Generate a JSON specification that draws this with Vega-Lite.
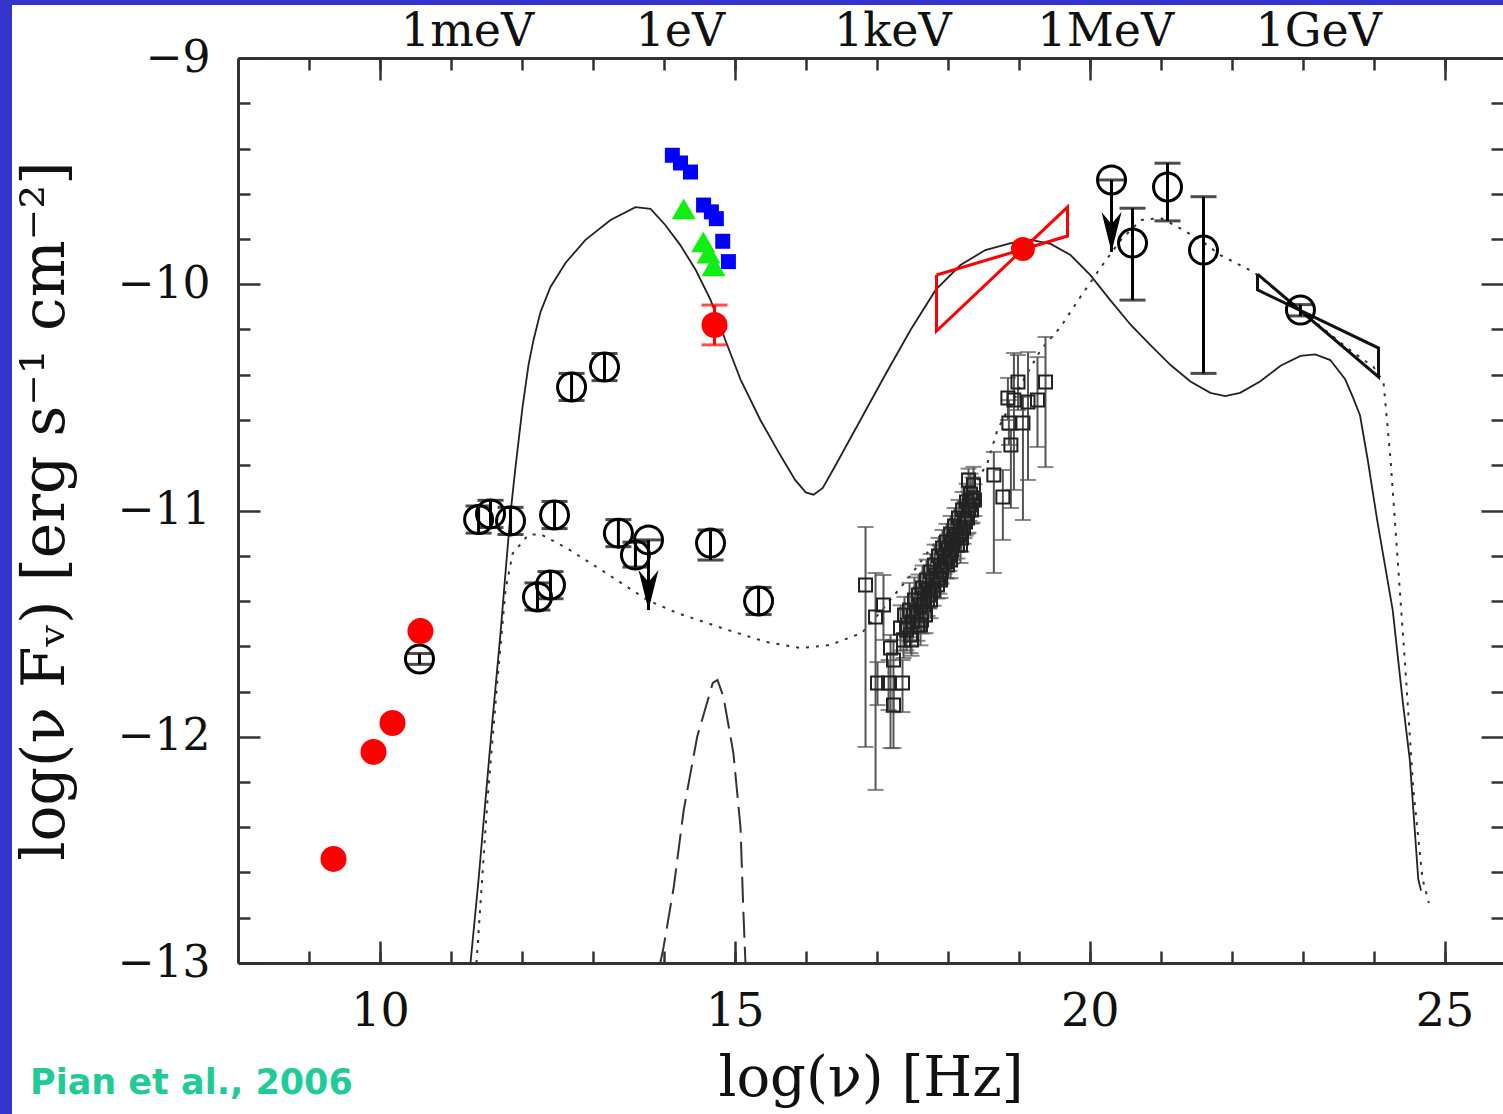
{
  "$schema": "https://vega.github.io/schema/vega-lite/v6.json",
  "width": 1491,
  "height": 1109,
  "autosize": {"type": "none"},
  "padding": {"left": 12, "top": 5, "right": 0, "bottom": 0},
  "background": "#3434cc",
  "title": {"text": "Pian et al., 2006", "orient": "bottom", "anchor": "start", "frame": "group", "dx": 18, "offset": -48, "color": "#1fcc98", "font": "DejaVu Sans", "fontSize": 35, "fontWeight": "bold"},
  "config": {
    "view": {"stroke": null, "fill": "white"},
    "axis": {"grid": false, "domainColor": "#333", "domainWidth": 3, "tickColor": "#333", "tickWidth": 2.5, "labelColor": "#111", "titleColor": "#111"}
  },
  "resolve": {"axis": {"x": "independent", "y": "independent"}},
  "datasets": {
    "solid": [
      {"x": 11.276, "y": -13.0}, {"x": 11.389, "y": -12.633}, {"x": 11.487, "y": -12.28}, {"x": 11.586, "y": -11.926},
      {"x": 11.699, "y": -11.541}, {"x": 11.769, "y": -11.276}, {"x": 11.84, "y": -11.011}, {"x": 11.91, "y": -10.808},
      {"x": 12.009, "y": -10.543}, {"x": 12.093, "y": -10.357}, {"x": 12.164, "y": -10.246}, {"x": 12.262, "y": -10.123},
      {"x": 12.403, "y": -10.012}, {"x": 12.614, "y": -9.906}, {"x": 12.896, "y": -9.804}, {"x": 13.249, "y": -9.716},
      {"x": 13.601, "y": -9.659}, {"x": 13.813, "y": -9.667}, {"x": 14.02, "y": -9.738}, {"x": 14.23, "y": -9.826},
      {"x": 14.45, "y": -9.937}, {"x": 14.66, "y": -10.07}, {"x": 14.87, "y": -10.25}, {"x": 15.08, "y": -10.42},
      {"x": 15.36, "y": -10.6}, {"x": 15.64, "y": -10.755}, {"x": 15.85, "y": -10.865}, {"x": 16.0, "y": -10.92},
      {"x": 16.11, "y": -10.93}, {"x": 16.24, "y": -10.9}, {"x": 16.42, "y": -10.8}, {"x": 16.77, "y": -10.6},
      {"x": 17.12, "y": -10.4}, {"x": 17.48, "y": -10.2}, {"x": 17.83, "y": -10.025}, {"x": 18.18, "y": -9.915},
      {"x": 18.53, "y": -9.849}, {"x": 18.89, "y": -9.818}, {"x": 19.17, "y": -9.804}, {"x": 19.45, "y": -9.822},
      {"x": 19.73, "y": -9.871}, {"x": 20.01, "y": -9.96}, {"x": 20.29, "y": -10.07}, {"x": 20.58, "y": -10.18},
      {"x": 20.86, "y": -10.27}, {"x": 21.14, "y": -10.357}, {"x": 21.42, "y": -10.43}, {"x": 21.7, "y": -10.48},
      {"x": 21.91, "y": -10.494}, {"x": 22.12, "y": -10.48}, {"x": 22.4, "y": -10.43}, {"x": 22.69, "y": -10.36},
      {"x": 22.97, "y": -10.317}, {"x": 23.18, "y": -10.31}, {"x": 23.39, "y": -10.335}, {"x": 23.6, "y": -10.42},
      {"x": 23.71, "y": -10.5}, {"x": 23.81, "y": -10.58}, {"x": 23.92, "y": -10.78}, {"x": 24.05, "y": -11.04},
      {"x": 24.16, "y": -11.24}, {"x": 24.27, "y": -11.44}, {"x": 24.41, "y": -11.84}, {"x": 24.51, "y": -12.1},
      {"x": 24.63, "y": -12.63}, {"x": 24.67, "y": -12.68}
    ],
    "dotted": [
      {"x": 11.36, "y": -13.0}, {"x": 11.515, "y": -12.28}, {"x": 11.66, "y": -11.735}, {"x": 11.77, "y": -11.35},
      {"x": 11.87, "y": -11.19}, {"x": 12.09, "y": -11.108}, {"x": 12.26, "y": -11.104}, {"x": 12.63, "y": -11.166},
      {"x": 13.12, "y": -11.263}, {"x": 13.77, "y": -11.396}, {"x": 14.19, "y": -11.453}, {"x": 14.9, "y": -11.528},
      {"x": 15.43, "y": -11.58}, {"x": 15.93, "y": -11.608}, {"x": 16.35, "y": -11.594}, {"x": 16.79, "y": -11.541},
      {"x": 17.05, "y": -11.449}, {"x": 17.48, "y": -11.285}, {"x": 17.9, "y": -11.108}, {"x": 18.25, "y": -10.954},
      {"x": 18.56, "y": -10.79}, {"x": 18.7, "y": -10.644}, {"x": 19.03, "y": -10.445}, {"x": 19.31, "y": -10.29},
      {"x": 19.59, "y": -10.189}, {"x": 19.87, "y": -10.056}, {"x": 20.16, "y": -9.924}, {"x": 20.44, "y": -9.804},
      {"x": 20.72, "y": -9.716}, {"x": 21.0, "y": -9.707}, {"x": 21.24, "y": -9.747}, {"x": 21.56, "y": -9.804},
      {"x": 21.84, "y": -9.871}, {"x": 22.31, "y": -9.946}, {"x": 22.97, "y": -10.114}, {"x": 23.63, "y": -10.282},
      {"x": 24.0, "y": -10.366}, {"x": 24.14, "y": -10.432}, {"x": 24.24, "y": -10.777}, {"x": 24.33, "y": -11.175},
      {"x": 24.45, "y": -11.705}, {"x": 24.56, "y": -12.231}, {"x": 24.69, "y": -12.629}, {"x": 24.78, "y": -12.735}
    ],
    "dashed": [
      {"x": 13.95, "y": -13.0}, {"x": 13.996, "y": -12.93}, {"x": 14.14, "y": -12.664}, {"x": 14.28, "y": -12.324},
      {"x": 14.47, "y": -12.0}, {"x": 14.69, "y": -11.762}, {"x": 14.756, "y": -11.749}, {"x": 14.84, "y": -11.824},
      {"x": 14.98, "y": -12.072}, {"x": 15.08, "y": -12.4}, {"x": 15.12, "y": -12.766}, {"x": 15.15, "y": -13.0}
    ],
    "redBow": [
      {"o": 1, "x": 17.842, "y": -9.959}, {"o": 2, "x": 19.688, "y": -9.787}, {"o": 3, "x": 19.688, "y": -9.659},
      {"o": 4, "x": 17.842, "y": -10.207}, {"o": 5, "x": 17.842, "y": -9.959}
    ],
    "blackBow": [
      {"o": 1, "x": 22.365, "y": -9.955}, {"o": 2, "x": 24.07, "y": -10.41}, {"o": 3, "x": 24.07, "y": -10.282},
      {"o": 4, "x": 22.365, "y": -10.025}, {"o": 5, "x": 22.365, "y": -9.955}
    ],
    "xray": [
      {"x": 16.842, "y": -11.329, "lo": -12.045, "hi": -11.073},
      {"x": 16.983, "y": -11.471, "lo": -12.235, "hi": -11.276},
      {"x": 17.095, "y": -11.418, "lo": -11.572, "hi": -11.285},
      {"x": 17.194, "y": -11.608, "lo": -12.05, "hi": -11.55},
      {"x": 17.236, "y": -11.661, "lo": -11.891, "hi": -11.572},
      {"x": 17.166, "y": -11.762, "lo": -11.882, "hi": -11.661},
      {"x": 17.011, "y": -11.762, "lo": -11.86, "hi": -11.67},
      {"x": 17.363, "y": -11.762, "lo": -11.891, "hi": -11.661},
      {"x": 17.236, "y": -11.86, "lo": -12.05, "hi": -11.793},
      {"x": 17.335, "y": -11.519, "lo": -11.619, "hi": -11.419},
      {"x": 17.391, "y": -11.462, "lo": -11.542, "hi": -11.382},
      {"x": 17.42, "y": -11.528, "lo": -11.618, "hi": -11.438},
      {"x": 17.462, "y": -11.44, "lo": -11.56, "hi": -11.32},
      {"x": 17.504, "y": -11.493, "lo": -11.573, "hi": -11.413},
      {"x": 17.532, "y": -11.396, "lo": -11.496, "hi": -11.296},
      {"x": 17.56, "y": -11.449, "lo": -11.519, "hi": -11.379},
      {"x": 17.589, "y": -11.373, "lo": -11.463, "hi": -11.283},
      {"x": 17.617, "y": -11.418, "lo": -11.498, "hi": -11.338},
      {"x": 17.645, "y": -11.343, "lo": -11.443, "hi": -11.243},
      {"x": 17.673, "y": -11.387, "lo": -11.457, "hi": -11.317},
      {"x": 17.701, "y": -11.307, "lo": -11.397, "hi": -11.217},
      {"x": 17.729, "y": -11.351, "lo": -11.431, "hi": -11.271},
      {"x": 17.758, "y": -11.272, "lo": -11.352, "hi": -11.192},
      {"x": 17.786, "y": -11.316, "lo": -11.386, "hi": -11.246},
      {"x": 17.814, "y": -11.241, "lo": -11.331, "hi": -11.151},
      {"x": 17.842, "y": -11.285, "lo": -11.355, "hi": -11.215},
      {"x": 17.87, "y": -11.201, "lo": -11.281, "hi": -11.121},
      {"x": 17.899, "y": -11.245, "lo": -11.315, "hi": -11.175},
      {"x": 17.927, "y": -11.166, "lo": -11.246, "hi": -11.086},
      {"x": 17.955, "y": -11.21, "lo": -11.28, "hi": -11.14},
      {"x": 17.983, "y": -11.139, "lo": -11.219, "hi": -11.059},
      {"x": 18.011, "y": -11.175, "lo": -11.245, "hi": -11.105},
      {"x": 18.04, "y": -11.104, "lo": -11.184, "hi": -11.024},
      {"x": 18.068, "y": -11.148, "lo": -11.218, "hi": -11.078},
      {"x": 18.096, "y": -11.069, "lo": -11.149, "hi": -10.989},
      {"x": 18.124, "y": -11.113, "lo": -11.183, "hi": -11.043},
      {"x": 18.152, "y": -11.033, "lo": -11.113, "hi": -10.953},
      {"x": 18.18, "y": -11.077, "lo": -11.147, "hi": -11.007},
      {"x": 18.209, "y": -10.998, "lo": -11.078, "hi": -10.918},
      {"x": 18.237, "y": -11.042, "lo": -11.122, "hi": -10.962},
      {"x": 18.265, "y": -10.962, "lo": -11.042, "hi": -10.882},
      {"x": 18.293, "y": -10.998, "lo": -11.098, "hi": -10.898},
      {"x": 18.321, "y": -10.927, "lo": -11.017, "hi": -10.837},
      {"x": 18.349, "y": -10.954, "lo": -11.054, "hi": -10.854},
      {"x": 18.293, "y": -10.865, "lo": -10.915, "hi": -10.815},
      {"x": 18.18, "y": -11.152, "lo": -11.232, "hi": -11.072},
      {"x": 18.04, "y": -11.219, "lo": -11.299, "hi": -11.139},
      {"x": 17.899, "y": -11.307, "lo": -11.387, "hi": -11.227},
      {"x": 17.758, "y": -11.396, "lo": -11.476, "hi": -11.316},
      {"x": 17.617, "y": -11.506, "lo": -11.596, "hi": -11.416},
      {"x": 17.476, "y": -11.55, "lo": -11.63, "hi": -11.47},
      {"x": 17.687, "y": -11.462, "lo": -11.542, "hi": -11.382},
      {"x": 17.377, "y": -11.572, "lo": -11.652, "hi": -11.492},
      {"x": 17.434, "y": -11.506, "lo": -11.576, "hi": -11.436},
      {"x": 17.49, "y": -11.572, "lo": -11.642, "hi": -11.502},
      {"x": 17.518, "y": -11.462, "lo": -11.542, "hi": -11.382},
      {"x": 17.575, "y": -11.506, "lo": -11.576, "hi": -11.436},
      {"x": 17.631, "y": -11.484, "lo": -11.544, "hi": -11.424},
      {"x": 17.659, "y": -11.418, "lo": -11.488, "hi": -11.348},
      {"x": 17.716, "y": -11.396, "lo": -11.466, "hi": -11.326},
      {"x": 17.744, "y": -11.373, "lo": -11.433, "hi": -11.313},
      {"x": 17.8, "y": -11.351, "lo": -11.421, "hi": -11.281},
      {"x": 17.856, "y": -11.329, "lo": -11.389, "hi": -11.269},
      {"x": 17.884, "y": -11.298, "lo": -11.368, "hi": -11.228},
      {"x": 17.913, "y": -11.263, "lo": -11.323, "hi": -11.203},
      {"x": 17.969, "y": -11.228, "lo": -11.298, "hi": -11.158},
      {"x": 17.997, "y": -11.241, "lo": -11.301, "hi": -11.181},
      {"x": 18.025, "y": -11.197, "lo": -11.267, "hi": -11.127},
      {"x": 18.054, "y": -11.175, "lo": -11.235, "hi": -11.115},
      {"x": 18.082, "y": -11.13, "lo": -11.2, "hi": -11.06},
      {"x": 18.138, "y": -11.152, "lo": -11.212, "hi": -11.092},
      {"x": 18.166, "y": -11.108, "lo": -11.178, "hi": -11.038},
      {"x": 18.194, "y": -11.122, "lo": -11.182, "hi": -11.062},
      {"x": 18.223, "y": -11.077, "lo": -11.147, "hi": -11.007},
      {"x": 18.251, "y": -11.051, "lo": -11.111, "hi": -10.991},
      {"x": 18.279, "y": -11.033, "lo": -11.103, "hi": -10.963},
      {"x": 18.307, "y": -10.976, "lo": -11.046, "hi": -10.906},
      {"x": 18.335, "y": -10.998, "lo": -11.058, "hi": -10.938},
      {"x": 18.363, "y": -10.887, "lo": -10.967, "hi": -10.807},
      {"x": 18.377, "y": -10.954, "lo": -11.024, "hi": -10.884},
      {"x": 18.65, "y": -10.843, "lo": -11.276, "hi": -10.741},
      {"x": 18.777, "y": -10.94, "lo": -11.13, "hi": -10.821},
      {"x": 18.89, "y": -10.71, "lo": -10.989, "hi": -10.644},
      {"x": 19.06, "y": -10.613, "lo": -11.042, "hi": -10.498},
      {"x": 18.933, "y": -10.512, "lo": -10.909, "hi": -10.304},
      {"x": 19.131, "y": -10.52, "lo": -10.865, "hi": -10.3},
      {"x": 19.265, "y": -10.512, "lo": -10.719, "hi": -10.322},
      {"x": 19.378, "y": -10.432, "lo": -10.808, "hi": -10.233},
      {"x": 18.848, "y": -10.503, "lo": -10.6, "hi": -10.414},
      {"x": 18.99, "y": -10.432, "lo": -10.556, "hi": -10.313},
      {"x": 18.862, "y": -10.613, "lo": -10.71, "hi": -10.512}
    ],
    "circles": [
      {"x": 10.557, "y": -11.656, "lo": -11.68, "hi": -11.632},
      {"x": 11.39, "y": -11.04, "lo": -11.1, "hi": -10.98},
      {"x": 11.558, "y": -11.015, "lo": -11.075, "hi": -10.955},
      {"x": 11.84, "y": -11.046, "lo": -11.106, "hi": -10.986},
      {"x": 12.46, "y": -11.02, "lo": -11.08, "hi": -10.96},
      {"x": 12.7, "y": -10.454, "lo": -10.514, "hi": -10.394},
      {"x": 13.164, "y": -10.366, "lo": -10.426, "hi": -10.306},
      {"x": 13.36, "y": -11.1, "lo": -11.16, "hi": -11.04},
      {"x": 13.6, "y": -11.197, "lo": -11.25, "hi": -11.14},
      {"x": 14.658, "y": -11.144, "lo": -11.219, "hi": -11.086},
      {"x": 12.22, "y": -11.382, "lo": -11.44, "hi": -11.32},
      {"x": 12.403, "y": -11.329, "lo": -11.39, "hi": -11.27},
      {"x": 15.335, "y": -11.4, "lo": -11.46, "hi": -11.34},
      {"x": 20.604, "y": -9.818, "lo": -10.07, "hi": -9.664},
      {"x": 21.097, "y": -9.57, "lo": -9.72, "hi": -9.465},
      {"x": 21.604, "y": -9.849, "lo": -10.394, "hi": -9.613},
      {"x": 22.97, "y": -10.114, "lo": -10.14, "hi": -10.09}
    ],
    "limits": [
      {"x": 13.784, "y": -11.13, "tip": -11.44},
      {"x": 20.308, "y": -9.539, "tip": -9.857}
    ],
    "red": [
      {"x": 9.346, "y": -12.54}, {"x": 9.909, "y": -12.067}, {"x": 10.177, "y": -11.939}, {"x": 10.571, "y": -11.533}
    ],
    "redErr": [
      {"x": 14.714, "y": -10.18, "lo": -10.268, "hi": -10.092}
    ],
    "redPivot": [
      {"x": 19.06, "y": -9.844}
    ],
    "blue": [
      {"x": 14.12, "y": -9.43}, {"x": 14.235, "y": -9.464}, {"x": 14.376, "y": -9.504}, {"x": 14.56, "y": -9.65},
      {"x": 14.67, "y": -9.68}, {"x": 14.74, "y": -9.71}, {"x": 14.83, "y": -9.81}, {"x": 14.91, "y": -9.9}
    ],
    "green": [
      {"x": 14.28, "y": -9.667}, {"x": 14.555, "y": -9.813}, {"x": 14.63, "y": -9.862}, {"x": 14.7, "y": -9.919}
    ]
  },
  "layer": [
    {
      "data": {"name": "solid"},
      "mark": {"type": "line", "color": "#222", "strokeWidth": 1.8, "clip": true},
      "encoding": {
        "x": {"field": "x", "type": "quantitative", "scale": {"domain": [8, 25.824], "range": [226, 1491], "nice": false, "zero": false},
          "axis": {"orient": "bottom", "offset": -151, "values": [10, 15, 20, 25], "ticks": false, "domain": true, "format": "d",
            "labelFont": "DejaVu Serif", "labelFontSize": 46, "labelPadding": 26, "labelFlush": false, "labelOverlap": false,
            "title": "log(ν)  [Hz]", "titleFont": "DejaVu Serif", "titleFontSize": 56, "titleFontWeight": "normal", "titlePadding": 17}},
        "y": {"field": "y", "type": "quantitative", "scale": {"domain": [-13, -9], "range": [958, 53], "nice": false, "zero": false},
          "axis": {"orient": "left", "offset": -226, "values": [-13, -12, -11, -10, -9], "ticks": false, "domain": true, "format": "d",
            "labelFont": "DejaVu Serif", "labelFontSize": 44, "labelPadding": 28, "labelFlush": false, "labelOverlap": false,
            "title": "log(ν Fᵥ)  [erg  s⁻¹  cm⁻²]", "titleFont": "DejaVu Serif", "titleFontSize": 60, "titleFontWeight": "normal", "titlePadding": 41}}
      }
    },
    {
      "data": {"name": "dotted"},
      "mark": {"type": "line", "color": "#333", "strokeWidth": 2, "strokeDash": [3, 7], "clip": true},
      "encoding": {
        "x": {"field": "x", "type": "quantitative",
          "axis": {"orient": "bottom", "offset": -151, "values": [10, 15, 20, 25], "labels": false, "domain": false, "tickSize": -22, "title": null}},
        "y": {"field": "y", "type": "quantitative",
          "axis": {"orient": "left", "offset": -226, "values": [-13, -12, -11, -10, -9], "labels": false, "domain": false, "tickSize": -22, "title": null}}
      }
    },
    {
      "data": {"name": "dashed"},
      "mark": {"type": "line", "color": "#333", "strokeWidth": 2, "strokeDash": [26, 9], "clip": true},
      "encoding": {
        "x": {"field": "x", "type": "quantitative",
          "axis": {"orient": "bottom", "offset": -151, "values": [9, 10, 11, 12, 13, 14, 15, 16, 17, 18, 19, 20, 21, 22, 23, 24, 25], "labels": false, "domain": false, "tickSize": -12, "title": null}},
        "y": {"field": "y", "type": "quantitative",
          "axis": {"orient": "left", "offset": -226, "values": [-12.8, -12.6, -12.4, -12.2, -11.8, -11.6, -11.4, -11.2, -10.8, -10.6, -10.4, -10.2, -9.8, -9.6, -9.4, -9.2], "labels": false, "domain": false, "tickSize": -12, "title": null}}
      }
    },
    {
      "data": {"name": "redBow"},
      "mark": {"type": "line", "color": "#ff0000", "strokeWidth": 3},
      "encoding": {
        "x": {"field": "x", "type": "quantitative",
          "axis": {"orient": "top", "offset": -53, "values": [10, 15, 20, 25], "labels": false, "domain": true, "tickSize": -22, "title": null}},
        "y": {"field": "y", "type": "quantitative",
          "axis": {"orient": "right", "values": [-13, -12, -11, -10, -9], "labels": false, "domain": false, "tickSize": -22, "title": null}},
        "order": {"field": "o", "type": "quantitative"}
      }
    },
    {
      "data": {"name": "blackBow"},
      "mark": {"type": "line", "color": "#111", "strokeWidth": 3},
      "encoding": {
        "x": {"field": "x", "type": "quantitative",
          "axis": {"orient": "top", "offset": -53, "values": [9, 10, 11, 12, 13, 14, 15, 16, 17, 18, 19, 20, 21, 22, 23, 24, 25], "labels": false, "domain": false, "tickSize": -12, "title": null}},
        "y": {"field": "y", "type": "quantitative",
          "axis": {"orient": "right", "values": [-12.8, -12.6, -12.4, -12.2, -11.8, -11.6, -11.4, -11.2, -10.8, -10.6, -10.4, -10.2, -9.8, -9.6, -9.4, -9.2], "labels": false, "domain": false, "tickSize": -12, "title": null}},
        "order": {"field": "o", "type": "quantitative"}
      }
    },
    {
      "data": {"name": "xray"},
      "mark": {"type": "rule", "color": "#555", "strokeWidth": 2},
      "encoding": {
        "x": {"field": "x", "type": "quantitative",
          "axis": {"orient": "top", "offset": -53, "values": [11.227, 14.225, 17.22, 20.22, 23.22], "ticks": false, "domain": false,
            "labelExpr": "datum.value < 12 ? '1meV' : datum.value < 15 ? '1eV' : datum.value < 18 ? '1keV' : datum.value < 21 ? '1MeV' : '1GeV'",
            "labelFont": "DejaVu Serif", "labelFontSize": 46, "labelPadding": 3, "labelFlush": false, "labelOverlap": false, "title": null}},
        "y": {"field": "lo", "type": "quantitative", "axis": null},
        "y2": {"field": "hi"}
      }
    },
    {
      "data": {"name": "xray"},
      "mark": {"type": "tick", "orient": "horizontal", "color": "#555", "size": 16, "thickness": 2},
      "encoding": {
        "x": {"field": "x", "type": "quantitative", "axis": null},
        "y": {"field": "lo", "type": "quantitative", "axis": null}
      }
    },
    {
      "data": {"name": "xray"},
      "mark": {"type": "tick", "orient": "horizontal", "color": "#555", "size": 16, "thickness": 2},
      "encoding": {
        "x": {"field": "x", "type": "quantitative", "axis": null},
        "y": {"field": "hi", "type": "quantitative", "axis": null}
      }
    },
    {
      "data": {"name": "xray"},
      "mark": {"type": "point", "shape": "square", "filled": false, "color": "#222", "strokeWidth": 2, "size": 169, "opacity": 1},
      "encoding": {
        "x": {"field": "x", "type": "quantitative", "axis": null},
        "y": {"field": "y", "type": "quantitative", "axis": null}
      }
    },
    {
      "data": {"name": "circles"},
      "mark": {"type": "rule", "color": "#000", "strokeWidth": 3},
      "encoding": {
        "x": {"field": "x", "type": "quantitative", "axis": null},
        "y": {"field": "lo", "type": "quantitative", "axis": null},
        "y2": {"field": "hi"}
      }
    },
    {
      "data": {"name": "circles"},
      "mark": {"type": "tick", "orient": "horizontal", "color": "#000", "size": 26, "thickness": 3},
      "encoding": {
        "x": {"field": "x", "type": "quantitative", "axis": null},
        "y": {"field": "lo", "type": "quantitative", "axis": null}
      }
    },
    {
      "data": {"name": "circles"},
      "mark": {"type": "tick", "orient": "horizontal", "color": "#000", "size": 26, "thickness": 3},
      "encoding": {
        "x": {"field": "x", "type": "quantitative", "axis": null},
        "y": {"field": "hi", "type": "quantitative", "axis": null}
      }
    },
    {
      "data": {"name": "circles"},
      "mark": {"type": "point", "shape": "circle", "filled": false, "color": "#000", "strokeWidth": 3, "size": 784, "opacity": 1},
      "encoding": {
        "x": {"field": "x", "type": "quantitative", "axis": null},
        "y": {"field": "y", "type": "quantitative", "axis": null}
      }
    },
    {
      "data": {"name": "limits"},
      "mark": {"type": "rule", "color": "#000", "strokeWidth": 3},
      "encoding": {
        "x": {"field": "x", "type": "quantitative", "axis": null},
        "y": {"field": "y", "type": "quantitative", "axis": null},
        "y2": {"field": "tip"}
      }
    },
    {
      "data": {"name": "limits"},
      "mark": {"type": "tick", "orient": "horizontal", "color": "#000", "size": 28, "thickness": 3},
      "encoding": {
        "x": {"field": "x", "type": "quantitative", "axis": null},
        "y": {"field": "y", "type": "quantitative", "axis": null}
      }
    },
    {
      "data": {"name": "limits"},
      "mark": {"type": "point", "shape": "circle", "filled": false, "color": "#000", "strokeWidth": 3, "size": 784, "opacity": 1},
      "encoding": {
        "x": {"field": "x", "type": "quantitative", "axis": null},
        "y": {"field": "y", "type": "quantitative", "axis": null}
      }
    },
    {
      "data": {"name": "limits"},
      "mark": {"type": "point", "shape": "M-0.5,-1L0,1L0.5,-1L0,-0.4Z", "filled": true, "color": "#000", "size": 1600, "yOffset": -20, "opacity": 1},
      "encoding": {
        "x": {"field": "x", "type": "quantitative", "axis": null},
        "y": {"field": "tip", "type": "quantitative", "axis": null}
      }
    },
    {
      "data": {"name": "red"},
      "mark": {"type": "point", "shape": "circle", "filled": true, "color": "#ff0000", "size": 676, "opacity": 1},
      "encoding": {
        "x": {"field": "x", "type": "quantitative", "axis": null},
        "y": {"field": "y", "type": "quantitative", "axis": null}
      }
    },
    {
      "data": {"name": "redErr"},
      "mark": {"type": "rule", "color": "#ff0000", "strokeWidth": 3},
      "encoding": {
        "x": {"field": "x", "type": "quantitative", "axis": null},
        "y": {"field": "lo", "type": "quantitative", "axis": null},
        "y2": {"field": "hi"}
      }
    },
    {
      "data": {"name": "redErr"},
      "mark": {"type": "tick", "orient": "horizontal", "color": "#ff0000", "size": 26, "thickness": 3},
      "encoding": {
        "x": {"field": "x", "type": "quantitative", "axis": null},
        "y": {"field": "lo", "type": "quantitative", "axis": null}
      }
    },
    {
      "data": {"name": "redErr"},
      "mark": {"type": "tick", "orient": "horizontal", "color": "#ff0000", "size": 26, "thickness": 3},
      "encoding": {
        "x": {"field": "x", "type": "quantitative", "axis": null},
        "y": {"field": "hi", "type": "quantitative", "axis": null}
      }
    },
    {
      "data": {"name": "redErr"},
      "mark": {"type": "point", "shape": "circle", "filled": true, "color": "#ff0000", "size": 676, "opacity": 1},
      "encoding": {
        "x": {"field": "x", "type": "quantitative", "axis": null},
        "y": {"field": "y", "type": "quantitative", "axis": null}
      }
    },
    {
      "data": {"name": "redPivot"},
      "mark": {"type": "point", "shape": "circle", "filled": true, "color": "#ff0000", "size": 576, "opacity": 1},
      "encoding": {
        "x": {"field": "x", "type": "quantitative", "axis": null},
        "y": {"field": "y", "type": "quantitative", "axis": null}
      }
    },
    {
      "data": {"name": "blue"},
      "mark": {"type": "point", "shape": "square", "filled": true, "color": "#0000ff", "size": 225, "opacity": 1},
      "encoding": {
        "x": {"field": "x", "type": "quantitative", "axis": null},
        "y": {"field": "y", "type": "quantitative", "axis": null}
      }
    },
    {
      "data": {"name": "green"},
      "mark": {"type": "point", "shape": "triangle-up", "filled": true, "color": "#11ee11", "size": 576, "opacity": 1},
      "encoding": {
        "x": {"field": "x", "type": "quantitative", "axis": null},
        "y": {"field": "y", "type": "quantitative", "axis": null}
      }
    }
  ]
}
